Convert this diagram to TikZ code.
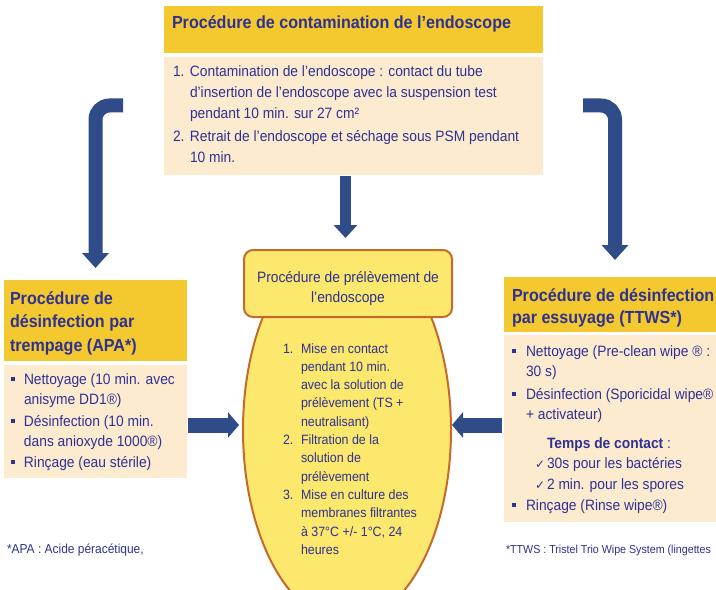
\documentclass[tikz,border=0pt]{standalone}
\usepackage{fontspec}
\setmainfont{Liberation Sans}[FakeStretch=0.92]
\newfontfamily\symfont{DejaVu Sans}
\usetikzlibrary{arrows.meta}
\definecolor{txt}{HTML}{2E3192}
\definecolor{hdrfill}{HTML}{F4C92F}
\definecolor{bodyfill}{HTML}{FDEBD0}
\definecolor{arrowc}{HTML}{2F4C89}
\definecolor{ovalfill}{HTML}{FBE86C}
\definecolor{ovaldraw}{HTML}{C46B2C}
\newcommand{\bul}{\raisebox{3bp}{\rule{4bp}{4bp}}}
\newcommand{\chk}{{\symfont\fontsize{12bp}{12bp}\selectfont ✓}}
\begin{document}
\begin{tikzpicture}[x=1bp,y=-1bp,
  box/.style={anchor=north west, inner sep=0, outer sep=0},
  hdrbox/.style={box, fill=hdrfill},
  bodybox/.style={box, fill=bodyfill},
  txtnode/.style={anchor=base west, inner sep=0, outer sep=0, text=txt, align=left},
  hdrfont/.style={font=\bfseries\fontsize{17.5bp}{23.5bp}\selectfont},
  bodyfont/.style={font=\fontsize{15bp}{21bp}\selectfont},
  bigarrow/.style={draw=arrowc, line cap=butt, rounded corners=14bp}
]
\useasboundingbox (0,0) rectangle (716,590);
\fill[white] (0,0) rectangle (716,590);

% ---------- top block ----------
\node[hdrbox, minimum width=379bp, minimum height=47bp] (tophdr) at (164,6) {};
\node[bodybox, minimum width=379bp, minimum height=118bp] (topbody) at (164,57) {};
\node[txtnode, hdrfont] (tophdrtxt) at (172,29) {Procédure de contamination de l’endoscope};
\node[txtnode, bodyfont] (topbodytxt) at (173,77) {%
\begin{tabular}[t]{@{}p{17bp}@{}l@{}}
1. & Contamination de l’endoscope : contact du tube\\
 & d’insertion de l’endoscope avec la suspension test\\
 & pendant 10 min. sur 27 cm²\\[2bp]
2. & Retrait de l’endoscope et séchage sous PSM pendant\\
 & 10 min.
\end{tabular}};

% ---------- left block ----------
\node[hdrbox, minimum width=183bp, minimum height=81bp] (lefthdr) at (4,280) {};
\node[bodybox, minimum width=183bp, minimum height=113bp] (leftbody) at (4,365) {};
\node[txtnode, hdrfont] (lefthdrtxt) at (10,304) {%
\begin{tabular}[t]{@{}l@{}}
Procédure de\\
désinfection par\\
trempage (APA*)
\end{tabular}};
\node[txtnode, bodyfont] (leftbodytxt) at (11,384) {%
\fontsize{15bp}{20.5bp}\selectfont
\begin{tabular}[t]{@{}p{13bp}@{}l@{}}
\bul & Nettoyage (10 min. avec\\
 & anisyme DD1®)\\[1bp]
\bul & Désinfection (10 min.\\
 & dans anioxyde 1000®)\\
\bul & Rinçage (eau stérile)
\end{tabular}};

% ---------- right block ----------
\node[hdrbox, minimum width=220bp, minimum height=55bp] (righthdr) at (504,277) {};
\node[bodybox, minimum width=220bp, minimum height=187bp] (rightbody) at (504,335) {};
\node[txtnode, font=\bfseries\fontsize{17.5bp}{22.5bp}\selectfont] (righthdrtxt) at (512,301) {%
\begin{tabular}[t]{@{}l@{}}
Procédure de désinfection\\
par essuyage (TTWS*)
\end{tabular}};
\node[txtnode, bodyfont] (rightbodytxt) at (512,356) {%
\fontsize{15bp}{20bp}\selectfont
\begin{tabular}[t]{@{}p{14bp}@{}l@{}}
\bul & Nettoyage (Pre-clean wipe ® :\\
 & 30 s)\\[3bp]
\bul & Désinfection (Sporicidal wipe®\\
 & + activateur)\\[9bp]
 & \hspace{21bp}\textbf{Temps de contact} :\\
 & \hspace{9bp}\makebox[12bp][l]{\chk}30s pour les bactéries\\[1bp]
 & \hspace{9bp}\makebox[12bp][l]{\chk}2 min. pour les spores\\[1bp]
\bul & Rinçage (Rinse wipe®)
\end{tabular}};

% ---------- centre oval ----------
\begin{scope}
\clip (200,255) rectangle (500,600);
\filldraw[fill=ovalfill, draw=ovaldraw, line width=2bp] (347,430) ellipse [x radius=104, y radius=192];
\end{scope}
\coordinate (ovalc) at (347,430);
\node[box, fill=ovalfill, draw=ovaldraw, line width=2bp, rounded corners=9bp,
      minimum width=208bp, minimum height=67bp] (centrebox) at (244,250) {};
\node[anchor=base, inner sep=0, text=txt, bodyfont] (centretxt) at (348,282) {%
\fontsize{15bp}{20bp}\selectfont
\begin{tabular}[t]{@{}c@{}}
Procédure de prélèvement de\\
l’endoscope
\end{tabular}};
\node[txtnode] (ovaltxt) at (283,353) {%
\fontsize{13.5bp}{18.3bp}\selectfont
\begin{tabular}[t]{@{}p{18bp}@{}l@{}}
1. & Mise en contact\\
 & pendant 10 min.\\
 & avec la solution de\\
 & prélèvement (TS +\\
 & neutralisant)\\
2. & Filtration de la\\
 & solution de\\
 & prélèvement\\
3. & Mise en culture des\\
 & membranes filtrantes\\
 & à 37°C +/- 1°C, 24\\
 & heures
\end{tabular}};

% ---------- footnotes ----------
\node[txtnode, font=\fontsize{13bp}{15bp}\selectfont] (fnapa) at (7,553) {*APA : Acide péracétique,};
\node[txtnode, font=\fontsize{11.6bp}{14bp}\selectfont] (fnttws) at (506,553) {*TTWS : Tristel Trio Wipe System (lingettes};

% ---------- arrows ----------
\coordinate (la0) at (123,105.5);
\coordinate (la1) at (95.5,105.5);
\coordinate (la2) at (95.5,268);
\coordinate (ra0) at (583,105.5);
\coordinate (ra1) at (615,105.5);
\coordinate (ra2) at (615,260);
\coordinate (ca0) at (345.5,176);
\coordinate (ca1) at (345.5,238);
\coordinate (ha0) at (188,425);
\coordinate (ha1) at (239,425);
\coordinate (hb0) at (502,425);
\coordinate (hb1) at (452,425);
\draw[bigarrow, line width=14bp, -{Triangle[width=26bp,length=15bp]}] (la0) -- (la1) -- (la2);
\draw[bigarrow, line width=14bp, -{Triangle[width=26bp,length=15bp]}] (ra0) -- (ra1) -- (ra2);
\draw[bigarrow, line width=11bp, -{Triangle[width=23bp,length=13bp]}] (ca0) -- (ca1);
\draw[bigarrow, line width=15bp, -{Triangle[width=25bp,length=11bp]}] (ha0) -- (ha1);
\draw[bigarrow, line width=15bp, -{Triangle[width=25bp,length=11bp]}] (hb0) -- (hb1);
\end{tikzpicture}
\end{document}
